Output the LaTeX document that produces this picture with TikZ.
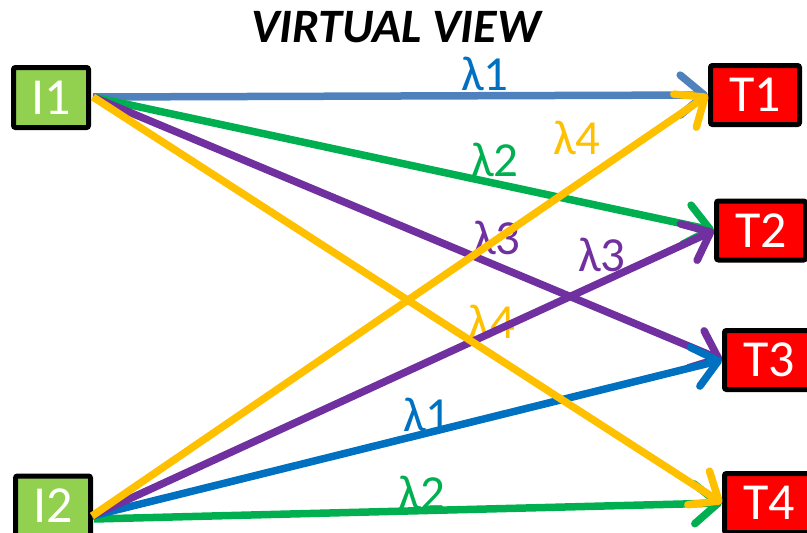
\documentclass[tikz,border=0pt]{standalone}
\usepackage{fontspec}
\setmainfont{Carlito}
\usetikzlibrary{arrows.meta}
\definecolor{srcgreen}{HTML}{92D050}
\definecolor{tgtred}{HTML}{FF0000}
\definecolor{lblue}{HTML}{4F81BD}
\definecolor{dblue}{HTML}{0070C0}
\definecolor{lgreen}{HTML}{00B050}
\definecolor{lpurple}{HTML}{7030A0}
\definecolor{lyellow}{HTML}{FFC000}
\begin{document}
\begin{tikzpicture}[x=1pt,y=-1pt,
  boxtext/.style={text=white, font=\fontsize{52}{56}\selectfont, inner sep=0pt},
  srcbox/.style={draw=black, line width=5pt, fill=srcgreen, rounded corners=2pt,
    boxtext, minimum width=75pt, minimum height=60pt},
  tgtbox/.style={draw=black, line width=5pt, fill=tgtred, rounded corners=2pt,
    boxtext, minimum width=89pt, minimum height=59pt},
  link/.style={line width=7.5pt, -{Straight Barb[length=24pt,width=40pt,round]}},
  lam/.style={font=\fontsize{49}{52}\selectfont, inner sep=0pt},
  ttl/.style={font=\fontsize{48}{52}\selectfont\bfseries\itshape, inner sep=0pt}]
\useasboundingbox (0,0) rectangle (807,533);
\node[ttl] (title) at (396,27) {VIRTUAL VIEW};
% boxes
\node[srcbox] (I1) at (51,97.5) {I1};
\node[srcbox] (I2) at (53,506) {};
\node[boxtext] (I2t) at (I2) {I2};
\node[tgtbox] (T1) at (755,95) {T1};
\node[tgtbox] (T2) at (761,230.5) {T2};
\node[tgtbox] (T3) at (769,360) {T3};
\node[tgtbox] (T4) at (769,503) {T4};
% labels (under the lines)
\node[lam, text=dblue] (l1a) at (485,74) {λ1};
\node[lam, text=lgreen] (l2a) at (495,160) {λ2};
\node[lam, text=lpurple] (l3a) at (497,238) {λ3};
\node[lam, text=lyellow] (l4a) at (492,322) {λ4};
\node[lam, text=lyellow] (l4b) at (577,138) {λ4};
\node[lam, text=lpurple] (l3b) at (602,255) {λ3};
\node[lam, text=dblue] (l1b) at (427,415) {λ1};
\node[lam, text=lgreen] (l2b) at (422,493) {λ2};
% start points
\coordinate (i1o) at (93,97);
\coordinate (i2o) at (92,516);
\coordinate (i2g) at (94,519);
% connectors from I1
\draw[link, lblue] (i1o) -- (T1.west);
\draw[link, lgreen] (i1o) -- (T2.west);
\draw[link, lpurple] (i1o) -- (T3.west);
% connectors from I2
\draw[link, lgreen] (i2g) -- (T4.west);
\draw[link, dblue] (i2o) -- (T3.west);
\draw[link, lpurple] (i2o) -- (T2.west);
\draw[link, lyellow] (i1o) -- (T4.west);
\draw[link, lyellow] (i2o) -- (T1.west);
\end{tikzpicture}
\end{document}
